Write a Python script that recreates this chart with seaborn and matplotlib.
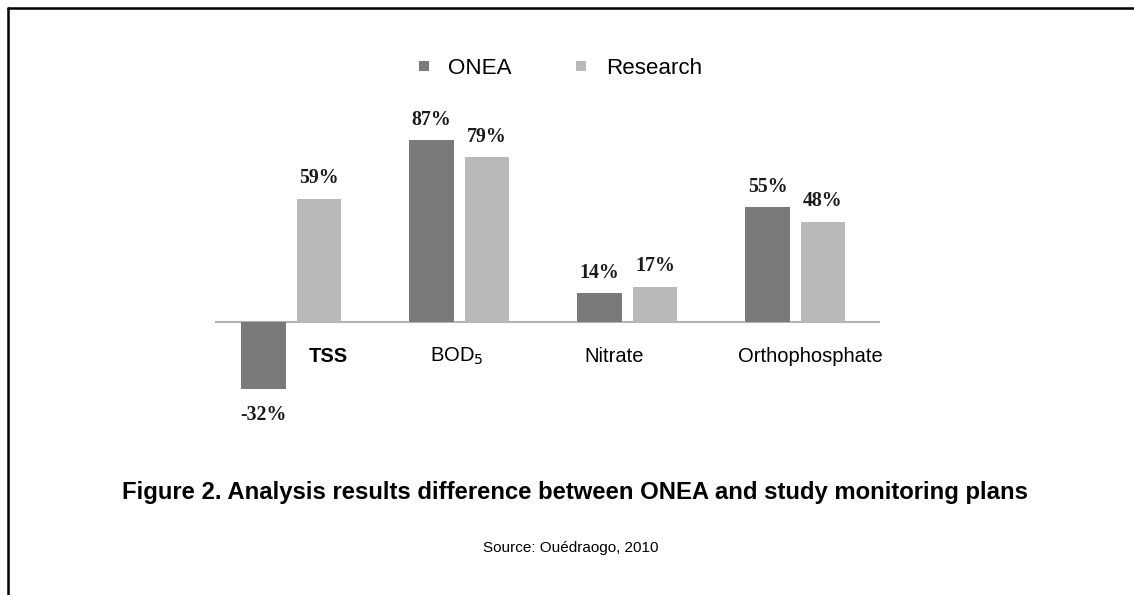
import pandas as pd
import seaborn as sns
import matplotlib.pyplot as plt
from matplotlib.lines import Line2D

# values (fraction)
parameters = ["TSS", "BOD$_5$", "Nitrate", "Orthophosphate"]
onea = [-0.32, 0.87, 0.14, 0.55]
research = [0.59, 0.79, 0.17, 0.48]
series = ["ONEA", "Research"]
colors = ["#7a7a7a", "#b9b9b9"]

# small nudges of the category labels, as in the original
label_shift = [0.22, -0.015, -0.08, 0.09]
label_weight = ["bold", "normal", "normal", "normal"]

df = pd.DataFrame({
    "Parameter": parameters * 2,
    "Plan": ["ONEA"] * 4 + ["Research"] * 4,
    "Diff": onea + research,
})

sns.set_style("white")
fig = plt.figure(figsize=(11.34, 5.95), dpi=100)
ax = fig.add_axes([215 / 1134, 1 - 437 / 595, 665 / 1134, 334.4 / 595])

sns.barplot(data=df, x="Parameter", y="Diff", hue="Plan", hue_order=series,
            palette=colors, width=0.66, gap=0.19, linewidth=0,
            legend=False, ax=ax)

ax.set_xlim(-0.454, 3.504)
ax.set_ylim(-0.55, 1.05)
ax.axhline(0, color="#b4b4b4", linewidth=1.5, zorder=0)
for s in ax.spines.values():
    s.set_visible(False)
ax.set_xticks([])
ax.set_yticks([])
ax.set_xlabel("")
ax.set_ylabel("")

# percentage labels over / under each bar
for cont in ax.containers:
    for p in cont:
        h = p.get_height()
        xc = p.get_x() + p.get_width() / 2
        if h >= 0:
            ax.annotate(f"{round(h * 100):d}%", (xc, h), xytext=(0, 11),
                        textcoords="offset points", ha="center", va="baseline",
                        fontsize=14.3, fontweight="bold", family="Liberation Serif",
                        color="#1a1a1a")
        else:
            ax.annotate(f"{round(h * 100):d}%", (xc, h), xytext=(0, -11.5),
                        textcoords="offset points", ha="center", va="top",
                        fontsize=14.3, fontweight="bold", family="Liberation Serif",
                        color="#1a1a1a")

# category names just under the zero line
for i, name in enumerate(parameters):
    ax.text(i + label_shift[i], -0.163, name, ha="center", va="center",
            fontsize=14.5, fontweight=label_weight[i], family="Liberation Sans",
            color="black")

handles = [Line2D([], [], marker="s", linestyle="", markersize=6.5,
                  markerfacecolor=c, markeredgewidth=0) for c in colors]
fig.legend(handles, series, loc="center", bbox_to_anchor=(559 / 1134, 1 - 68 / 595),
           ncol=2, frameon=False, handlelength=0.7, handletextpad=0.75,
           columnspacing=2.75, prop={"family": "Liberation Sans", "size": 16.1},
           labelcolor="black")

fig.text(574.5 / 1134, 1 - 492 / 595,
         "Figure 2. Analysis results difference between ONEA and study monitoring plans",
         ha="center", va="center", fontsize=17.2, fontweight="bold",
         family="Liberation Sans", color="black")
fig.text(571 / 1134, 1 - 548 / 595, "Source: Ouédraogo, 2010", ha="center",
         va="center", fontsize=11, family="Liberation Sans", color="black")

# the frame lines at the left and top of the page
fig.add_artist(Line2D([8 / 1134, 8 / 1134], [0, 1 - 8 / 595], color="black",
                      linewidth=1.8, transform=fig.transFigure))
fig.add_artist(Line2D([8 / 1134, 1], [1 - 8 / 595, 1 - 8 / 595], color="black",
                      linewidth=1.8, transform=fig.transFigure))

fig.savefig("out.png", dpi=100)
